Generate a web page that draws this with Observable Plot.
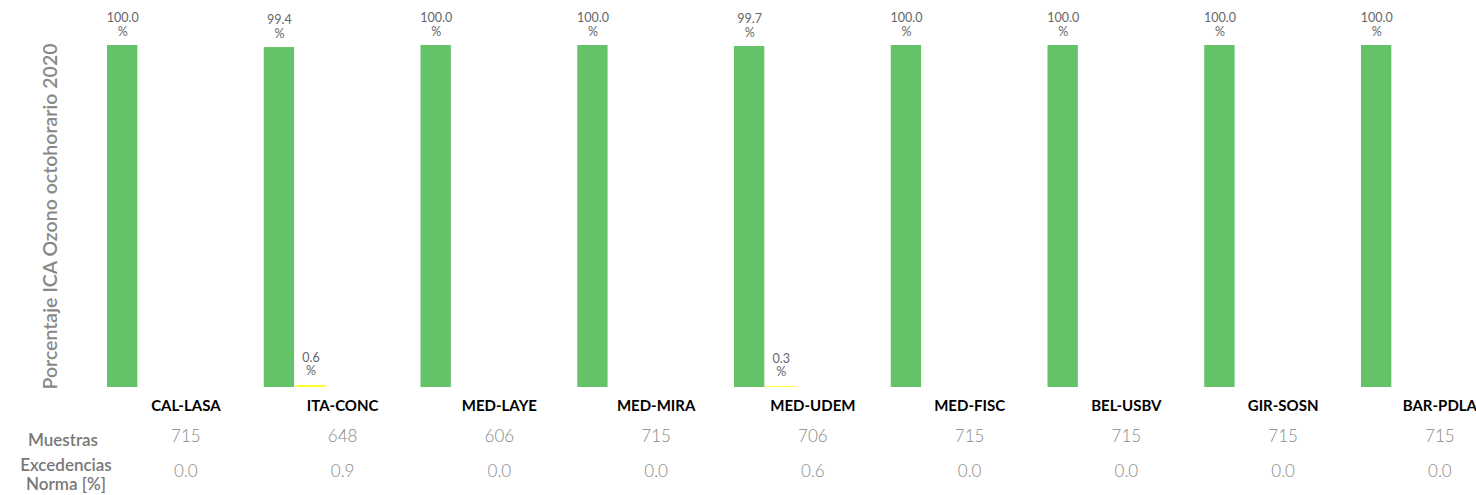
<!DOCTYPE html>
<html><head><meta charset="utf-8">
<script src="https://cdn.jsdelivr.net/npm/d3@7"></script>
<script src="https://cdn.jsdelivr.net/npm/@observablehq/plot@0.6"></script>
<style>
body{margin:0;background:#fff;overflow:hidden;font-family:Lato,sans-serif}
#wrap{position:relative;width:1476px;height:495px;overflow:hidden}
.rowlab{position:absolute;color:#787878;font-size:17px;font-weight:600;text-align:center;width:140px;line-height:19px;font-family:Lato,sans-serif}
</style></head><body><div id="wrap"></div>
<script>
const stations = ["CAL-LASA","ITA-CONC","MED-LAYE","MED-MIRA","MED-UDEM","MED-FISC","BEL-USBV","GIR-SOSN","BAR-PDLA"];
const categories = ["Buena","Aceptable","Dañina grupos sensibles","Dañina","Muy dañina"];
const colors = ["#64c368","#ffff33","#ff7e00","#ff0000","#8f3f97"];
const buena = [100.0, 99.4, 100.0, 100.0, 99.7, 100.0, 100.0, 100.0, 100.0];
const aceptable = [0.0, 0.6, 0.0, 0.0, 0.3, 0.0, 0.0, 0.0, 0.0];
const muestras = [715, 648, 606, 715, 706, 715, 715, 715, 715];
const excedencias = [0.0, 0.9, 0.0, 0.0, 0.6, 0.0, 0.0, 0.0, 0.0];
const rowLabels = ["Muestras", "Excedencias\nNorma [%]"];
const yLabel = "Porcentaje ICA Ozono octohorario 2020";

const rows = [];
stations.forEach((s, i) => {
  rows.push({station: s, cat: categories[0], value: buena[i]});
  rows.push({station: s, cat: categories[1], value: aceptable[i]});
});

const chart = Plot.plot({
  width: 1476, height: 495,
  marginLeft: 107, marginRight: 0, marginTop: 45, marginBottom: 108,
  style: {fontFamily: "Lato, sans-serif", background: "white"},
  fx: {domain: stations, range: [107, 1517.75], paddingInner: 0, paddingOuter: 0, round: false, label: null, axis: null},
  x: {domain: categories, paddingInner: 0.04, paddingOuter: 0, round: false, axis: null},
  y: {domain: [0, 100], axis: null},
  color: {domain: categories, range: colors},
  marks: [
    Plot.barY(rows, {fx: "station", x: "cat", y: "value", fill: "cat"}),
    Plot.text(rows.filter(d => d.value > 0), {fx: "station", x: "cat", y: "value",
      text: d => d.value.toFixed(1) + "\n%", lineAnchor: "bottom", dy: -10, fontSize: 12.5, lineHeight: 1.1, fill: "#666"}),
    Plot.axisFx({anchor: "bottom", tickSize: 0, tickPadding: 13, fontSize: 15, fontWeight: "bold", fill: "#000", label: null}),
    Plot.axisFx({anchor: "bottom", tickSize: 0, tickPadding: 42, fontSize: 17, fontWeight: 300, fill: "#888", label: null,
      tickFormat: s => String(muestras[stations.indexOf(s)])}),
    Plot.axisFx({anchor: "bottom", tickSize: 0, tickPadding: 77, fontSize: 17, fontWeight: 300, fill: "#888", label: null,
      tickFormat: s => excedencias[stations.indexOf(s)].toFixed(1)}),
    Plot.axisY({ticks: [], tickSize: 0, label: yLabel, labelArrow: false, labelAnchor: "center", labelOffset: 64, fontSize: 19.5, fill: "#888", fontWeight: 600})
  ]
});
const wrap = document.getElementById("wrap");
wrap.appendChild(chart);
const l1 = document.createElement("div");
l1.className = "rowlab"; l1.style.left = "-7px"; l1.style.top = "430px"; l1.textContent = rowLabels[0];
wrap.appendChild(l1);
const l2 = document.createElement("div");
l2.className = "rowlab"; l2.style.left = "-4px"; l2.style.top = "455px"; l2.style.whiteSpace = "pre"; l2.textContent = rowLabels[1];
wrap.appendChild(l2);
</script></body></html>
